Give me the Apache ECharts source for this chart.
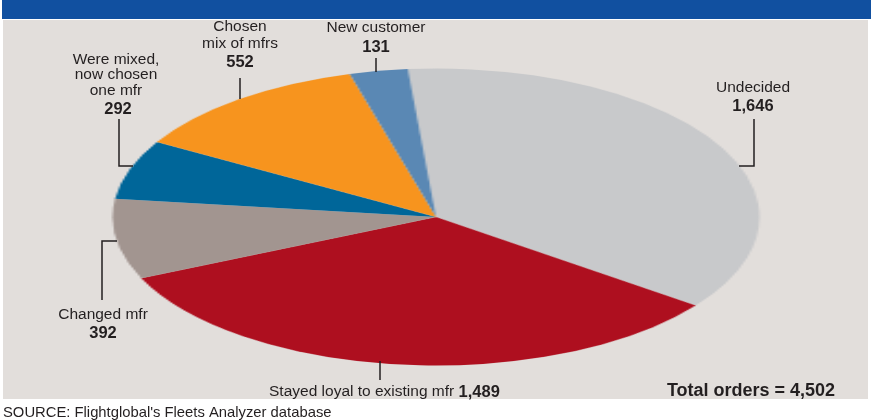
<!DOCTYPE html>
<html><head><meta charset="utf-8">
<script src="https://cdn.jsdelivr.net/npm/echarts@6/dist/echarts.min.js"></script>
<style>
html,body{margin:0;padding:0;background:#fff;}
#wrap{position:relative;width:871px;height:420px;overflow:hidden;background:#fff;}
#bar{position:absolute;left:2px;top:0;width:869px;height:19px;background:#1150a0;}
#panel{position:absolute;left:3px;top:20px;width:865px;height:379px;background:#e2dedb;}
#pie{position:absolute;left:286px;top:66.5px;width:300px;height:300px;transform:scaleX(2.178);transform-origin:50% 50%;}
#over{position:absolute;left:0;top:0;width:871px;height:420px;}
</style></head>
<body><div id="wrap"><div id="bar"></div><div id="panel"></div><div id="pie"></div><div id="over"></div></div>
<script>
const categories = ["Undecided","Stayed loyal to existing mfr","Changed mfr","Were mixed, now chosen one mfr","Chosen mix of mfrs","New customer"];
const values = [1646,1489,392,292,552,131];
const colors = ["#c8c9cb","#ae0f1f","#a29590","#006699","#f7941e","#5a88b4"];
const total = 4502;

const pie = echarts.init(document.getElementById('pie'), null, {renderer:'canvas'});
pie.setOption({
  animation:false,
  series:[{
    type:'pie', radius:148.5, center:['50%','50%'], startAngle:95, clockwise:true,
    label:{show:false}, labelLine:{show:false},
    itemStyle:{borderWidth:0},
    emphasis:{disabled:true},
    data: categories.map((c,i)=>({name:c,value:values[i],itemStyle:{color:colors[i]}}))
  }]
});

const fmt = v => v.toLocaleString('en-US');
const F = '"Liberation Sans", Arial, sans-serif';
const TC = '#231f20';
function txt(x,y,t,bold,size,align){
  return {type:'text',left:null,x:x,y:y,style:{text:t,x:0,y:0,fill:TC,font:(bold?'bold ':'')+size+'px '+F,textAlign:align||'center',textVerticalAlign:'middle'}};
}
function line(pts){
  return {type:'polyline',shape:{points:pts},style:{stroke:TC,lineWidth:1.5,fill:null}};
}
const g = [
  // New customer
  txt(376,28,"New customer",false,15.5), txt(376,47,fmt(values[5]),true,16.5),
  line([[376,58],[376,72]]),
  // Chosen mix
  txt(240,27,"Chosen",false,15.5), txt(240,44,"mix of mfrs",false,15.5), txt(240,62,fmt(values[4]),true,16.5),
  line([[240,78],[240,99]]),
  // Were mixed
  txt(116,60,"Were mixed,",false,15.5), txt(116,75,"now chosen",false,15.5), txt(116,91,"one mfr",false,15.5), txt(118,109,fmt(values[3]),true,16.5),
  line([[119,119],[119,166],[133,166]]),
  // Undecided
  txt(753,88,"Undecided",false,15.5), txt(753,106,fmt(values[0]),true,16.5),
  line([[754,119],[754,166],[739,166]]),
  // Changed mfr
  txt(103,315,"Changed mfr",false,15.5), txt(103,333,fmt(values[2]),true,16.5),
  line([[117,241],[102,241],[102,300]]),
  // Stayed loyal
  line([[380,361],[380,380]]),
  {type:'text',x:269,y:392,style:{rich:{a:{font:'15.5px '+F,fill:TC},b:{font:'bold 16.5px '+F,fill:TC}},text:'{a|Stayed loyal to existing mfr }{b|'+fmt(values[1])+'}',textAlign:'left',textVerticalAlign:'middle'}},
  // Total
  {type:'text',x:751,y:391,style:{text:'Total orders = '+fmt(total),fill:TC,font:'bold 18px '+F,textAlign:'center',textVerticalAlign:'middle'}},
  // Source
  {type:'text',x:3,y:413,style:{text:"SOURCE: Flightglobal's Fleets Analyzer database",fill:TC,font:'14.8px '+F,textAlign:'left',textVerticalAlign:'middle'}}
];
const over = echarts.init(document.getElementById('over'), null, {renderer:'canvas'});
over.setOption({animation:false, backgroundColor:'transparent', graphic:{elements:g}});
</script></body></html>
